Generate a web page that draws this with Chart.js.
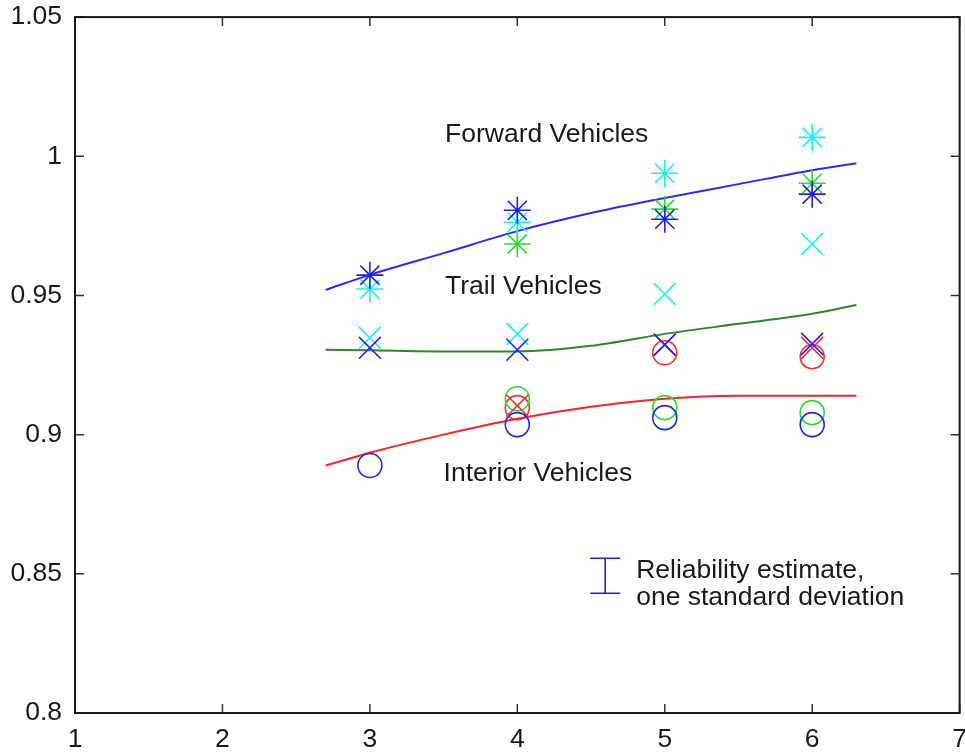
<!DOCTYPE html>
<html>
<head>
<meta charset="utf-8">
<script src="https://cdn.jsdelivr.net/npm/chart.js@4/dist/chart.umd.min.js"></script>
<style>
  html, body { margin: 0; padding: 0; background: #fff; overflow: hidden; }
  #wrap { width: 965px; height: 753px; overflow: hidden; }
  canvas { display: block; }
</style>
</head>
<body>
<div id="wrap"><canvas id="relChart" width="978" height="753"></canvas></div>
<script>
// measured points, x = 3..6
const xs = [3, 4, 5, 6];

const fwdBlue  = [0.9573, 0.9806, 0.9774, 0.9864];
const fwdCyan  = [0.9523, 0.9763, 0.9939, 1.0068];
const fwdGreen = [null,   0.9685, 0.9810, 0.9903];

const trailBlue = [0.9312, 0.9305, 0.9323, 0.9326];
const trailCyan = [0.9348, 0.9362, 0.9505, 0.9685];
const trailRed  = [null,   0.9104, 0.9323, 0.9312];

const intBlue  = [0.8889, 0.9036, 0.9061, 0.9036];
const intGreen = [null,   0.9129, 0.9097, 0.9079];
const intRed   = [null,   0.9097, 0.9294, 0.9280];

// fitted curves
const fitX       = [2.7, 3.0, 3.5, 4.0, 4.5, 5.0, 5.5, 6.0, 6.3];
const fitForward = [0.9520, 0.9574, 0.9652, 0.9731, 0.9796, 0.9850, 0.9900, 0.9950, 0.9975];
const fitTrail   = [0.9305, 0.9303, 0.9299, 0.9299, 0.9319, 0.9362, 0.9398, 0.9434, 0.9466];
const fitInterior = [0.8889, 0.8935, 0.9000, 0.9057, 0.9100, 0.9129, 0.9140, 0.9140, 0.9140];

const xTicks = [1, 2, 3, 4, 5, 6, 7];
const xTickLabels = ["1", "2", "3", "4", "5", "6", "7"];
const yTicks = [0.8, 0.85, 0.9, 0.95, 1, 1.05];
const yTickLabels = ["0.8", "0.85", "0.9", "0.95", "1", "1.05"];

const BLUE = "#2020ff", CYAN = "#10f4f4", GREEN = "#22e022", RED = "#ff2a2a";
const FONT = "'Liberation Sans', Arial, sans-serif";
const FSIZE = 26.5;

function pts(ys, xv) {
  return ys.map((y, i) => ({ x: (xv || xs)[i], y: y })).filter(p => p.y !== null);
}

function marker(data, color, style, r) {
  return {
    data: pts(data),
    pointStyle: style,
    pointRadius: r,
    pointHoverRadius: r,
    borderColor: color,
    backgroundColor: "rgba(0,0,0,0)",
    pointBorderWidth: 1.6,
    showLine: false
  };
}

function fit(data, color) {
  return {
    data: pts(data, fitX),
    showLine: true,
    borderColor: color,
    borderWidth: 2,
    pointRadius: 0,
    cubicInterpolationMode: "monotone",
    fill: false
  };
}

// inward ticks on all four sides, box frame, labels, legend
const framePlugin = {
  id: "frame",
  afterDraw(chart) {
    const { ctx, chartArea: a, scales } = chart;
    const xs_ = scales.x, ys_ = scales.y;
    const tl = 9;
    ctx.save();
    ctx.strokeStyle = "#333";
    ctx.lineWidth = 1.5;
    ctx.beginPath();
    xTicks.forEach(v => {
      const px = xs_.getPixelForValue(v);
      ctx.moveTo(px, a.bottom); ctx.lineTo(px, a.bottom - tl);
      ctx.moveTo(px, a.top); ctx.lineTo(px, a.top + tl);
    });
    yTicks.forEach(v => {
      const py = ys_.getPixelForValue(v);
      ctx.moveTo(a.left, py); ctx.lineTo(a.left + tl, py);
      ctx.moveTo(a.right, py); ctx.lineTo(a.right - tl, py);
    });
    ctx.stroke();
    ctx.strokeStyle = "#1a1a1a";
    ctx.lineWidth = 2;
    ctx.strokeRect(a.left, a.top, a.right - a.left, a.bottom - a.top);

    // text labels
    ctx.fillStyle = "#1a1a1a";
    ctx.font = FSIZE + "px " + FONT;
    ctx.textAlign = "left";
    ctx.textBaseline = "middle";
    ctx.fillText("Forward Vehicles", xs_.getPixelForValue(3.51), ys_.getPixelForValue(1.0079));
    ctx.fillText("Trail Vehicles", xs_.getPixelForValue(3.51), ys_.getPixelForValue(0.953));
    ctx.fillText("Interior Vehicles", xs_.getPixelForValue(3.5), ys_.getPixelForValue(0.886));

    // legend: error bar symbol
    const ex = xs_.getPixelForValue(4.596);
    const eTop = ys_.getPixelForValue(0.8556), eBot = ys_.getPixelForValue(0.8430);
    ctx.strokeStyle = BLUE;
    ctx.lineWidth = 1.6;
    ctx.beginPath();
    ctx.moveTo(ex, eTop); ctx.lineTo(ex, eBot);
    ctx.moveTo(ex - 15, eTop); ctx.lineTo(ex + 15, eTop);
    ctx.moveTo(ex - 15, eBot); ctx.lineTo(ex + 15, eBot);
    ctx.stroke();
    ctx.fillText("Reliability estimate,", xs_.getPixelForValue(4.806), ys_.getPixelForValue(0.8513));
    ctx.fillText("one standard deviation", xs_.getPixelForValue(4.806), ys_.getPixelForValue(0.8416));
    ctx.restore();
  }
};

const chart = new Chart(document.getElementById("relChart"), {
  type: "scatter",
  data: {
    datasets: [
      marker(fwdBlue, BLUE, "star", 13.5),
      marker(fwdCyan, CYAN, "star", 13.5),
      marker(fwdGreen, GREEN, "star", 13.5),
      marker(trailBlue, BLUE, "crossRot", 15.5),
      marker(trailCyan, CYAN, "crossRot", 15.5),
      marker(trailRed, RED, "crossRot", 15.5),
      marker(intBlue, BLUE, "circle", 12),
      marker(intGreen, GREEN, "circle", 12),
      marker(intRed, RED, "circle", 12),
      fit(fitForward, "#2a2aff"),
      fit(fitTrail, "#2a8a2a"),
      fit(fitInterior, "#ff2020")
    ]
  },
  options: {
    responsive: false,
    animation: false,
    layout: { padding: { top: 15, right: 0, left: 0, bottom: 0 } },
    plugins: {
      legend: { display: false },
      tooltip: { enabled: false }
    },
    scales: {
      x: {
        type: "linear",
        min: 1,
        max: 7,
        afterBuildTicks: s => { s.ticks = xTicks.map(v => ({ value: v })); },
        afterFit: s => { s.height = 40; },
        grid: { display: false, drawTicks: false },
        border: { display: false },
        ticks: {
          padding: 11,
          maxRotation: 0,
          autoSkip: false,
          color: "#1a1a1a",
          font: { family: FONT, size: FSIZE },
          callback: (v, i) => xTickLabels[i]
        }
      },
      y: {
        type: "linear",
        min: 0.8,
        max: 1.05,
        afterBuildTicks: s => { s.ticks = yTicks.map(v => ({ value: v })); },
        afterFit: s => { s.width = 75; s.paddingTop = 0; s.paddingBottom = 0; },
        grid: { display: false, drawTicks: false },
        border: { display: false },
        ticks: {
          padding: 13,
          autoSkip: false,
          color: "#1a1a1a",
          font: { family: FONT, size: FSIZE },
          callback: (v, i) => yTickLabels[i]
        }
      }
    }
  },
  plugins: [framePlugin]
});
</script>
</body>
</html>
